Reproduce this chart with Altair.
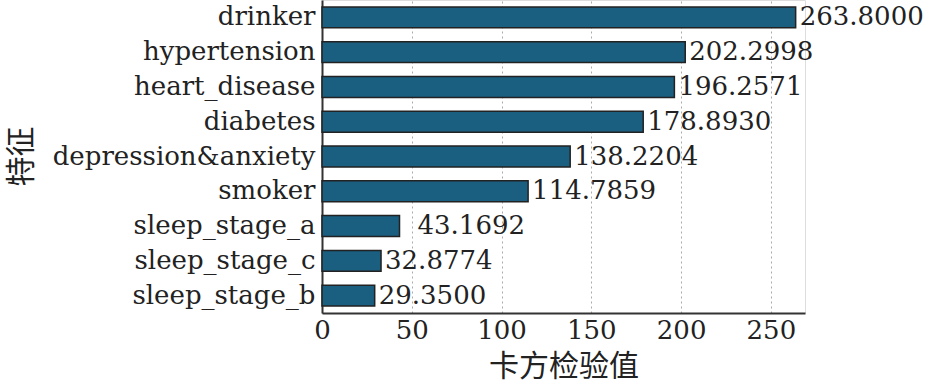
import altair as alt
import pandas as pd

features = ["drinker", "hypertension", "heart_disease", "diabetes",
            "depression&anxiety", "smoker", "sleep_stage_a",
            "sleep_stage_c", "sleep_stage_b"]
scores = [263.8000, 202.2998, 196.2571, 178.8930, 138.2204,
          114.7859, 43.1692, 32.8774, 29.3500]
labels = ["263.8000", "202.2998", "196.2571", "178.8930", "138.2204",
          "114.7859", "43.1692", "32.8774", "29.3500"]
# the reference shows one label set further from its bar
wide_gap = ["sleep_stage_a"]
x_ticks = [0, 50, 100, 150, 200, 250]

df = pd.DataFrame({"feature": features, "score": scores, "label": labels})

SERIF = "DejaVu Serif"
CJK = "Noto Sans CJK SC"
BAR = "#1a5e80"

x_enc = alt.X(
    "score:Q",
    scale=alt.Scale(domain=[0, 269], nice=False, zero=True),
    axis=alt.Axis(
        title="卡方检验值", values=x_ticks, format="d",
        titleFont=CJK, titleFontSize=30, titleFontWeight="normal",
        titleColor="#222", titleY=53, titleBaseline="middle",
        labelFont=SERIF, labelFontSize=26, labelColor="#222",
        labelPadding=4, ticks=False, labelFlush=False, labelOverlap=False,
        domainColor="#333", domainWidth=2,
        grid=True, gridColor="#aaaaaa", gridDash=[2, 3], gridWidth=1,
    ),
)
y_enc = alt.Y(
    "feature:N", sort=features,
    scale=alt.Scale(paddingInner=0.4, paddingOuter=0.2),
    axis=alt.Axis(
        title="特征", titleFont=CJK, titleFontSize=30,
        titleFontWeight="normal", titleColor="#222",
        titleAngle=-90, titleX=-301, titleY=156,
        titleAlign="center", titleBaseline="middle",
        labelFont=SERIF, labelFontSize=26, labelColor="#222",
        labelPadding=7, labelLimit=400, ticks=False,
        domainColor="#333", domainWidth=2, grid=False,
    ),
)

base = alt.Chart(df)

bars = base.mark_bar(
    color=BAR, stroke="#222", strokeWidth=1.5
).encode(x=x_enc, y=y_enc)

text_enc = dict(x="score:Q", y=alt.Y("feature:N", sort=features), text="label:N")

text_near = base.transform_filter(
    alt.FieldOneOfPredicate(field="feature", oneOf=[f for f in features if f not in wide_gap])
).mark_text(
    align="left", baseline="middle", dx=4,
    font=SERIF, fontSize=26, color="#222"
).encode(**text_enc)

text_far = base.transform_filter(
    alt.FieldOneOfPredicate(field="feature", oneOf=wide_gap)
).mark_text(
    align="left", baseline="middle", dx=18,
    font=SERIF, fontSize=26, color="#222"
).encode(**text_enc)

chart = (bars + text_near + text_far).properties(
    width=483, height=313,
    autosize=alt.AutoSizeParams(type="none"),
    padding={"left": 322, "top": 0, "right": 129, "bottom": 71},
).configure_view(stroke=None).configure(background="white")

chart.save("out.html", embed_options={"renderer": "svg", "actions": False})
